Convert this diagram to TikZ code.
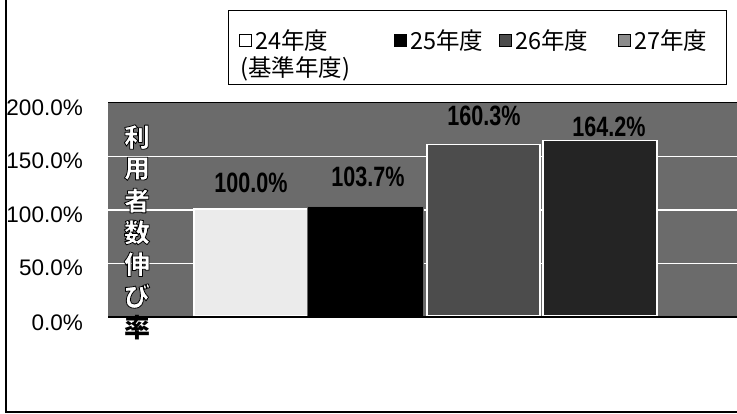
\documentclass[tikz,border=0pt]{standalone}
\usepackage{fontspec}
\setmainfont{Liberation Sans}
\newfontfamily\jp{Noto Sans CJK JP}
% one text drawn with fill and outline (PDF text render mode 2)
\newcommand\outl[4]{{\color{#1}\special{pdf:literal direct q #3 w #2 2 Tr 1 j}#4\special{pdf:literal direct Q}}}
\begin{document}
\begin{tikzpicture}[x=1pt,y=-1pt,
  axlab/.style={anchor=east,font=\fontsize{22.5}{24}\selectfont,inner sep=0pt},
  legtxt/.style={anchor=west,font=\jp\fontsize{23.5}{25}\selectfont,inner sep=0pt},
  legmark/.style={draw=black,line width=1pt,minimum size=12pt,inner sep=0pt},
  barlab/.style={font=\bfseries\fontsize{28}{29}\selectfont,inner sep=0pt,xscale=0.77,text=black},
  ytitle/.style={font=\jp\bfseries\fontsize{26}{28}\selectfont,inner sep=0pt},
  bar/.style={draw=white,line width=1.5pt},
  grid/.style={draw=white,line width=1.5pt}]
\useasboundingbox (0,0) rectangle (737,414);
\fill[white] (0,0) rectangle (737,414);
% outer frame
\coordinate (ftl) at (6,0);
\coordinate (fbl) at (6,412);
\coordinate (fbr) at (737,412);
\draw[line width=1.6pt] (ftl) -- (fbl) -- (fbr);
% plot area
\fill[black!58] (108,103) rectangle (737,317);
\foreach \yy in {156.5,210,263.5} \draw[grid] (108,\yy) -- (737,\yy);
\draw[black,line width=1pt] (108,103) -- (737,103);
% bars
\node[bar,fill=black!8,anchor=south west,minimum width=114pt,minimum height=107pt,inner sep=0pt] (b1) at (193,317) {};
\node[draw=black!60,fill=black,anchor=south west,minimum width=116pt,minimum height=111pt,inner sep=0pt] (b2) at (307,317) {};
\node[bar,fill=black!70,anchor=south west,minimum width=113pt,minimum height=171.5pt,inner sep=0pt] (b3) at (426,317) {};
\node[bar,fill=black!86,anchor=south west,minimum width=114pt,minimum height=175.7pt,inner sep=0pt] (b4) at (542,317) {};
\draw[black,line width=1.2pt] (108,317) -- (737,317);
% bar labels
\node[barlab] (l1) at (251,183) {100.0\%};
\node[barlab] (l2) at (368,177) {103.7\%};
\node[barlab] (l3) at (484,116) {160.3\%};
\node[barlab] (l4) at (609,127) {164.2\%};
% axis labels
\node[axlab] (a200) at (83,108) {200.0\%};
\node[axlab] (a150) at (83,161) {150.0\%};
\node[axlab] (a100) at (83,215) {100.0\%};
\node[axlab] (a50) at (83,268) {50.0\%};
\node[axlab] (a0) at (83,323) {0.0\%};
% y title
\foreach \ch [count=\i from 0] in {利,用,者,数,伸,び}
  \node[ytitle] (t\i) at (137,137+31.8*\i) {\outl{white}{0 G}{0.8}{\ch}};
\node[ytitle] (t6) at (137,137+31.8*6) {率};
% legend
\node[draw=black,line width=1.2pt,fill=white,minimum width=498pt,minimum height=74pt,anchor=north west,inner sep=0pt] (leg) at (228,10) {};
\node[legmark,fill=white] (m1) at (245,41) {};
\node[legtxt] (g1) at (255,41) {24年度};
\node[legtxt] (g1b) at (240,69) {(基準年度)};
\node[legmark,fill=black] (m2) at (400,41) {};
\node[legtxt] (g2) at (410,41) {25年度};
\node[legmark,fill=black!70] (m3) at (505,41) {};
\node[legtxt] (g3) at (515,41) {26年度};
\node[legmark,fill=black!45] (m4) at (624,41) {};
\node[legtxt] (g4) at (634,41) {27年度};
\end{tikzpicture}
\end{document}
